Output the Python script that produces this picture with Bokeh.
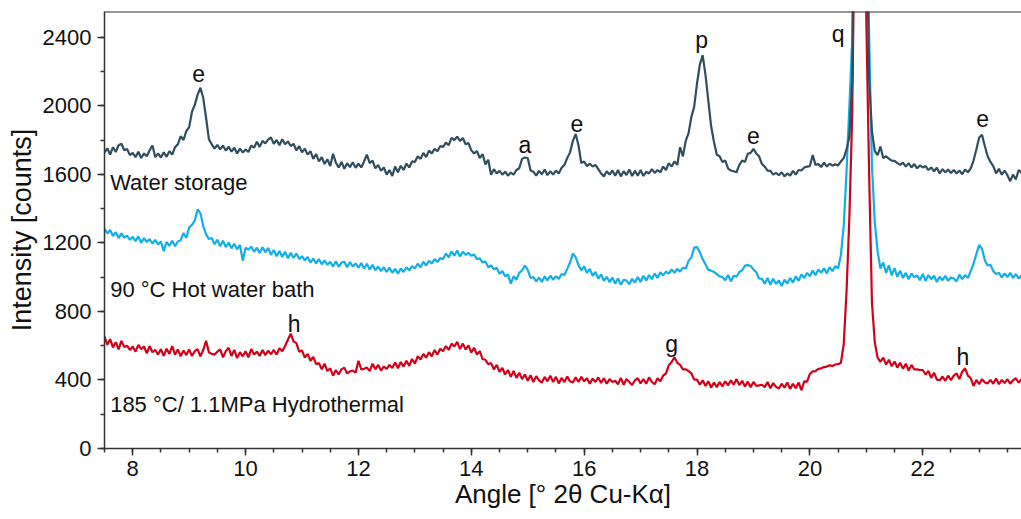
from bokeh.plotting import figure
from bokeh.models import Range1d, SingleIntervalTicker, Span
from bokeh.embed import file_html
from bokeh.resources import INLINE
from bokeh.core.properties import value

# ---- data (0.05 deg sampling from 7.50 deg) ----
angle_start = 7.5
angle_step = 0.05

water_storage = [
    1728, 1752, 1715, 1758, 1730, 1770, 1778, 1740, 1748, 1712,
    1725, 1700, 1732, 1695, 1722, 1705, 1740, 1768, 1700, 1722,
    1698, 1728, 1702, 1735, 1715, 1758, 1775, 1822, 1800, 1852,
    1875, 1965, 2005, 2065, 2105, 2045, 1930, 1805, 1775, 1750,
    1772, 1745, 1768, 1738, 1762, 1732, 1755, 1722, 1750, 1728,
    1745, 1730, 1768, 1755, 1790, 1760, 1795, 1780, 1802, 1815,
    1778, 1800, 1770, 1805, 1775, 1792, 1765, 1778, 1740, 1765,
    1728, 1750, 1715, 1735, 1690, 1718, 1675, 1700, 1660, 1688,
    1648, 1720, 1668, 1640, 1672, 1632, 1665, 1642, 1670, 1638,
    1662, 1640, 1675, 1715, 1665, 1680, 1635, 1655, 1620, 1640,
    1598, 1625, 1590, 1645, 1612, 1650, 1625, 1662, 1640, 1675,
    1672, 1705, 1690, 1725, 1700, 1738, 1722, 1748, 1735, 1765,
    1760, 1785, 1770, 1812, 1800, 1820, 1795, 1812, 1775, 1782,
    1740, 1722, 1735, 1695, 1718, 1658, 1685, 1598, 1630, 1605,
    1620, 1598, 1615, 1592, 1610, 1598, 1625, 1635, 1690, 1698,
    1695, 1622, 1615, 1592, 1620, 1600, 1628, 1595, 1618, 1598,
    1622, 1605, 1638, 1655, 1695, 1728, 1795, 1835, 1768, 1665,
    1675, 1648, 1662, 1645, 1655, 1630, 1605, 1588, 1618, 1598,
    1622, 1592, 1625, 1588, 1618, 1596, 1628, 1590, 1620, 1592,
    1625, 1590, 1615, 1605, 1630, 1608, 1625, 1612, 1645, 1625,
    1665, 1645, 1675, 1655, 1758, 1705, 1795, 1840, 1935, 1995,
    2130, 2240, 2295, 2180, 2030, 1880, 1790, 1715, 1705, 1672,
    1680, 1635, 1622, 1618, 1612, 1655, 1680, 1672, 1720, 1725,
    1748, 1722, 1705, 1660, 1645, 1622, 1620, 1598, 1608, 1595,
    1612, 1588, 1605, 1592, 1620, 1598, 1625, 1622, 1640, 1645,
    1648, 1712, 1655, 1660, 1642, 1668, 1645, 1662, 1650, 1658,
    1652, 1675, 1695, 1745, 1820, 2150, 3600, 8500, 11000, 7500,
    3200, 2150, 1850, 1735, 1712, 1762, 1695, 1705, 1692, 1680,
    1678, 1665, 1655, 1668, 1645, 1665, 1640, 1660, 1635, 1652,
    1640, 1648, 1625, 1640, 1618, 1638, 1605, 1630, 1612, 1628,
    1608, 1625, 1605, 1622, 1600, 1628, 1612, 1635, 1680, 1745,
    1815, 1830, 1765, 1705, 1672, 1648, 1605, 1632, 1598, 1622,
    1595, 1560, 1598, 1570, 1625, 1610,
]

hot_water_bath = [
    1282, 1255, 1275, 1240, 1262, 1228, 1255, 1230, 1242, 1218,
    1235, 1210, 1238, 1200, 1228, 1205, 1222, 1195, 1218, 1190,
    1208, 1152, 1205, 1182, 1212, 1180, 1208, 1215, 1258, 1228,
    1290, 1305, 1330, 1395, 1372, 1298, 1250, 1222, 1228, 1192,
    1218, 1180, 1212, 1175, 1202, 1168, 1195, 1162, 1188, 1095,
    1172, 1160, 1178, 1148, 1172, 1140, 1175, 1145, 1170, 1130,
    1158, 1122, 1152, 1118, 1148, 1110, 1142, 1112, 1138, 1105,
    1122, 1098, 1118, 1085, 1108, 1080, 1105, 1075, 1098, 1072,
    1090, 1062, 1092, 1060, 1085, 1090, 1058, 1088, 1062, 1080,
    1055, 1082, 1050, 1078, 1045, 1072, 1040, 1062, 1035, 1058,
    1030, 1055, 1025, 1048, 1020, 1050, 1030, 1058, 1040, 1065,
    1050, 1078, 1058, 1090, 1068, 1095, 1080, 1105, 1088, 1112,
    1105, 1138, 1115, 1150, 1125, 1155, 1120, 1148, 1130, 1142,
    1125, 1132, 1105, 1110, 1085, 1092, 1058, 1068, 1045, 1055,
    1020, 1035, 1005, 1015, 962, 1005, 985, 1025, 1040, 1068,
    1042, 995, 1000, 975, 998, 972, 1005, 980, 1008, 985,
    1005, 990, 1018, 1012, 1048, 1085, 1138, 1115, 1070, 1040,
    1062, 1025, 1048, 1008, 1030, 992, 1015, 978, 1002, 970,
    998, 962, 992, 955, 985, 980, 958, 990, 968, 1000,
    972, 1008, 980, 1012, 988, 1022, 995, 1028, 1010, 1032,
    1020, 1045, 1025, 1048, 1032, 1055, 1050, 1095, 1115, 1172,
    1175, 1145, 1105, 1075, 1042, 1038, 1030, 1018, 1005, 1000,
    982, 1012, 975, 1008, 1002, 1030, 1040, 1068, 1070, 1065,
    1045, 1028, 992, 990, 962, 995, 955, 990, 960, 980,
    948, 985, 962, 995, 968, 1005, 978, 1015, 995, 1025,
    1005, 1038, 1012, 1045, 1025, 1052, 1022, 1058, 1035, 1065,
    1050, 1130, 1300, 1620, 2000, 2380, 4200, 8800, 11500, 8000,
    3600, 2400, 1650, 1320, 1150, 1050, 1085, 1025, 1068, 1010,
    1052, 1002, 1038, 995, 1025, 988, 1022, 998, 1010, 982,
    1018, 978, 1012, 988, 1008, 972, 1002, 982, 1008, 978,
    998, 992, 975, 1015, 988, 1012, 995, 1035, 1078, 1135,
    1188, 1165, 1098, 1068, 1072, 1035, 1018, 1025, 998, 1022,
    1000, 1025, 995, 1018, 992, 1010,
]

hydrothermal = [
    655, 605, 638, 590, 620, 578, 628, 592, 600, 575,
    595, 565, 605, 580, 595, 555, 598, 562, 575, 548,
    580, 540, 582, 552, 598, 548, 578, 538, 572, 545,
    578, 540, 568, 580, 538, 575, 628, 562, 552, 548,
    565, 578, 532, 568, 588, 540, 575, 528, 562, 538,
    568, 532, 580, 548, 565, 540, 575, 545, 570, 550,
    575, 548, 585, 568, 598, 635, 670, 625, 615, 565,
    572, 530, 552, 512, 535, 492, 498, 462, 495, 452,
    468, 425, 458, 432, 462, 472, 438, 450, 455, 442,
    512, 462, 465, 472, 452, 495, 462, 488, 455, 478,
    465, 488, 470, 502, 468, 505, 478, 512, 482, 522,
    495, 538, 520, 552, 530, 562, 538, 575, 548, 582,
    568, 598, 575, 612, 595, 622, 580, 612, 578, 602,
    560, 588, 548, 568, 522, 518, 492, 498, 462, 488,
    448, 470, 432, 458, 418, 452, 412, 442, 405, 432,
    395, 428, 388, 422, 398, 385, 418, 392, 425, 388,
    418, 380, 412, 388, 420, 392, 385, 415, 388, 418,
    392, 410, 378, 408, 388, 415, 382, 410, 378, 405,
    388, 395, 375, 412, 372, 405, 388, 370, 398, 410,
    380, 405, 378, 415, 388, 375, 410, 392, 425, 438,
    485, 505, 532, 500, 488, 462, 462, 452, 438, 402,
    402, 372, 398, 365, 392, 355, 385, 358, 388, 362,
    392, 368, 398, 372, 405, 370, 395, 362, 390, 358,
    388, 365, 368, 372, 358, 388, 352, 382, 360, 350,
    378, 355, 385, 348, 378, 352, 385, 340, 392, 390,
    435, 450, 452, 465, 468, 475, 478, 485, 482, 490,
    492, 500, 610, 920, 1350, 1950, 3300, 8000, 10500, 7500,
    2500, 1600, 850, 620, 530, 505, 530, 490, 518, 480,
    508, 472, 500, 465, 495, 455, 488, 462, 462, 458,
    458, 432, 452, 412, 442, 402, 398, 420, 395, 425,
    398, 425, 438, 405, 448, 468, 425, 410, 365, 400,
    375, 405, 385, 380, 400, 378, 408, 375, 400, 382,
    405, 378, 398, 410, 385, 402,
]

angle = [round(angle_start + i * angle_step, 2) for i in range(len(water_storage))]

series_names = ["Water storage", "90 °C Hot water bath", "185 °C/ 1.1MPa Hydrothermal"]
series_label_x = [7.6, 7.6, 7.6]
series_label_y = [1553, 925, 259]

peak_labels = ["e", "a", "e", "p", "e", "q", "e", "h", "g", "h"]
peak_x = [9.17, 14.95, 15.87, 18.08, 19.0, 20.5, 23.06, 10.86, 17.55, 22.71]
peak_y = [2188, 1773, 1898, 2381, 1825, 2420, 1924, 728, 611, 535]

# ---- figure ----
FONT = "Liberation Sans"
p = figure(width=1021, height=519, output_backend="svg", toolbar_location=None,
           x_range=Range1d(7.5, 23.75), y_range=Range1d(0, 2550),
           min_border_left=104, min_border_right=0, min_border_top=11,
           min_border_bottom=71)
p.outline_line_color = None
p.background_fill_color = "white"
p.border_fill_color = "white"
p.xgrid.visible = False
p.ygrid.visible = False

# draw order: red underneath, then blue, then dark slate on top
for ys, c in zip([hydrothermal, hot_water_bath, water_storage],
                 ["#d0021b", "#12aee8", "#2f4e5e"]):
    p.line(angle, ys, line_color=c, line_width=2.2)

p.text(x=peak_x, y=peak_y, text=peak_labels, text_font=value(FONT),
       text_font_size="23px", text_align="center", text_baseline="alphabetic",
       text_color="#111111")
p.text(x=series_label_x, y=series_label_y, text=series_names, text_font=value(FONT),
       text_font_size="22px", text_align="left", text_baseline="alphabetic",
       text_color="#111111")

p.add_layout(Span(location=2550, dimension="width", line_color="#333333", line_width=2))

for ax in (p.xaxis[0], p.yaxis[0]):
    ax.axis_line_color = "#333333"
    ax.axis_line_width = 1.5
    ax.major_tick_line_color = "#333333"
    ax.minor_tick_line_color = "#333333"
    ax.major_tick_line_width = 1.5
    ax.minor_tick_line_width = 1.5
    ax.major_tick_in = 0
    ax.minor_tick_in = 0
    ax.major_tick_out = 7
    ax.minor_tick_out = 4
    ax.major_label_text_font = FONT
    ax.major_label_text_font_size = "22px"
    ax.major_label_text_color = "#111111"
    ax.axis_label_text_font = FONT
    ax.axis_label_text_font_style = "normal"
    ax.axis_label_text_color = "#111111"

p.xaxis[0].axis_label_text_font_size = "26px"
p.yaxis[0].axis_label_text_font_size = "27px"
p.xaxis[0].ticker = SingleIntervalTicker(interval=2, num_minor_ticks=4)
p.yaxis[0].ticker = SingleIntervalTicker(interval=400, num_minor_ticks=2)
p.xaxis[0].axis_label = "Angle [° 2θ Cu-Kα]"
p.yaxis[0].axis_label = "Intensity [counts]"
p.xaxis[0].major_label_standoff = 5
p.xaxis[0].axis_label_standoff = 0
p.yaxis[0].major_label_standoff = 6
p.yaxis[0].axis_label_standoff = 3

open("out.html", "w").write(file_html(p, INLINE))
